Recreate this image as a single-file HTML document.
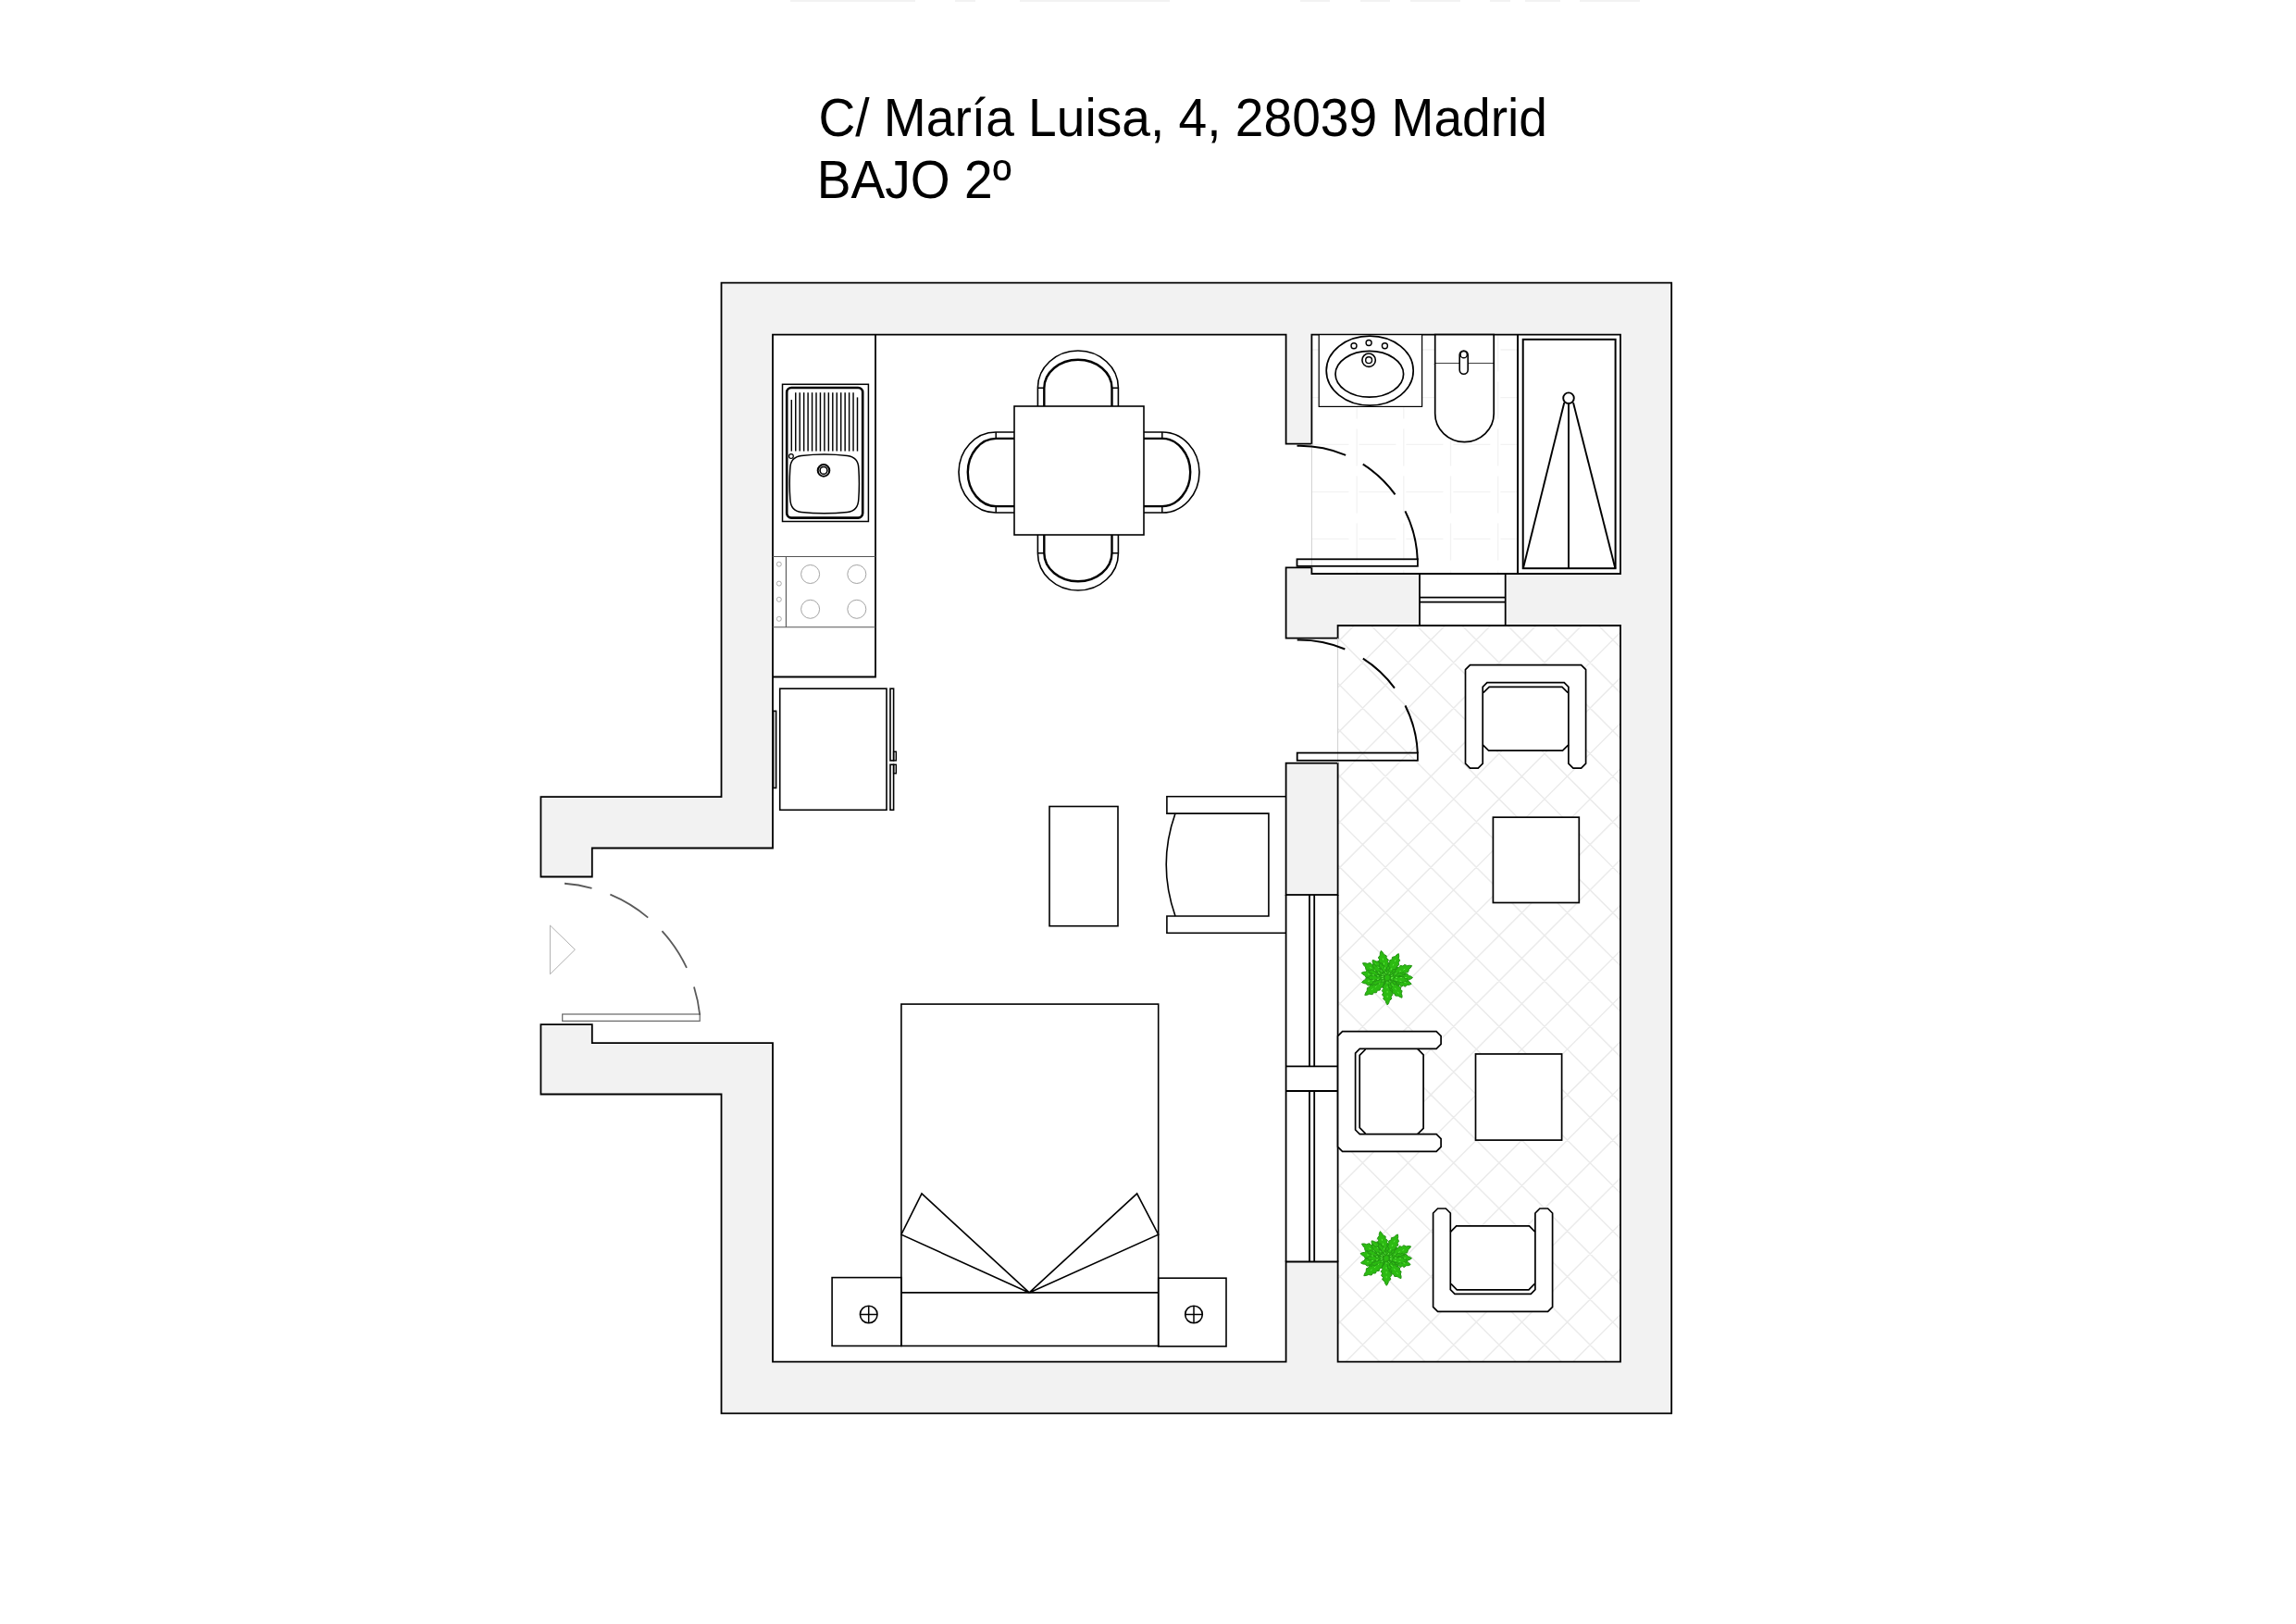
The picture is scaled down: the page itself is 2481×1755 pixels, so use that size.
<!DOCTYPE html>
<html><head><meta charset="utf-8"><style>
html,body{margin:0;padding:0;background:#fff;}
svg{display:block;}
</style></head><body>
<svg width="2481" height="1755" viewBox="0 0 2481 1755">
<rect width="2481" height="1755" fill="#fff"/>
<text transform="translate(884.4,147.4) scale(1,1.04)" font-family="&quot;Liberation Sans&quot;, sans-serif" font-size="55.14" fill="#000">C/ María Luisa, 4, 28039 Madrid</text>
<text transform="translate(882.68,213.7) scale(1,1.04)" font-family="&quot;Liberation Sans&quot;, sans-serif" font-size="55.14" fill="#000">BAJO 2º</text>
<rect x="854" y="0" width="135" height="2" fill="#f2f2f2"/>
<rect x="1032" y="0" width="22" height="2" fill="#f2f2f2"/>
<rect x="1102" y="0" width="162" height="2" fill="#f2f2f2"/>
<rect x="1405" y="0" width="32" height="2" fill="#f2f2f2"/>
<rect x="1470" y="0" width="32" height="2" fill="#f2f2f2"/>
<rect x="1524" y="0" width="54" height="2" fill="#f2f2f2"/>
<rect x="1610" y="0" width="22" height="2" fill="#f2f2f2"/>
<rect x="1648" y="0" width="38" height="2" fill="#f2f2f2"/>
<rect x="1707" y="0" width="65" height="2" fill="#f2f2f2"/>
<path d="M779.5,305.6 L1806.2,305.6 L1806.2,1527.4 L779.5,1527.4 L779.5,1182.5 L584.4,1182.5 L584.4,1107.1 L639.8,1107.1 L639.8,1127.1 L835,1127.1 L835,916.5 L639.8,916.5 L639.8,947.5 L584.4,947.5 L584.4,861.1 L779.5,861.1 Z" fill="#f2f2f2"/>
<rect x="835" y="361.6" width="554.6" height="1110" fill="#ffffff"/>
<rect x="584.4" y="947.5" width="251.6" height="159.6" fill="#ffffff"/>
<rect x="639.8" y="916.5" width="196.2" height="210.6" fill="#ffffff"/>
<rect x="1417.4" y="361.6" width="333.6" height="258.4" fill="#ffffff"/>
<rect x="1388.6" y="479.7" width="29.8" height="133.7" fill="#ffffff"/>
<rect x="1534" y="619" width="92.7" height="58" fill="#ffffff"/>
<rect x="1445.6" y="676" width="305.4" height="795.6" fill="#ffffff"/>
<rect x="1388.6" y="689.6" width="58" height="135.1" fill="#ffffff"/>
<rect x="1389.6" y="967" width="56" height="396.5" fill="#ffffff"/>
<clipPath id="tc"><rect x="1445.6" y="676" width="305.4" height="795.6"/></clipPath>
<path d="M1385.6,2546.1 L1811,2971.5 M1385.6,-1163.1 L1811,-1588.5 M1385.6,2496.95 L1811,2922.35 M1385.6,-1113.95 L1811,-1539.35 M1385.6,2447.8 L1811,2873.2 M1385.6,-1064.8 L1811,-1490.2 M1385.6,2398.65 L1811,2824.05 M1385.6,-1015.65 L1811,-1441.05 M1385.6,2349.5 L1811,2774.9 M1385.6,-966.5 L1811,-1391.9 M1385.6,2300.35 L1811,2725.75 M1385.6,-917.35 L1811,-1342.75 M1385.6,2251.2 L1811,2676.6 M1385.6,-868.2 L1811,-1293.6 M1385.6,2202.05 L1811,2627.45 M1385.6,-819.05 L1811,-1244.45 M1385.6,2152.9 L1811,2578.3 M1385.6,-769.9 L1811,-1195.3 M1385.6,2103.75 L1811,2529.15 M1385.6,-720.75 L1811,-1146.15 M1385.6,2054.6 L1811,2480 M1385.6,-671.6 L1811,-1097 M1385.6,2005.45 L1811,2430.85 M1385.6,-622.45 L1811,-1047.85 M1385.6,1956.3 L1811,2381.7 M1385.6,-573.3 L1811,-998.7 M1385.6,1907.15 L1811,2332.55 M1385.6,-524.15 L1811,-949.55 M1385.6,1858 L1811,2283.4 M1385.6,-475 L1811,-900.4 M1385.6,1808.85 L1811,2234.25 M1385.6,-425.85 L1811,-851.25 M1385.6,1759.7 L1811,2185.1 M1385.6,-376.7 L1811,-802.1 M1385.6,1710.55 L1811,2135.95 M1385.6,-327.55 L1811,-752.95 M1385.6,1661.4 L1811,2086.8 M1385.6,-278.4 L1811,-703.8 M1385.6,1612.25 L1811,2037.65 M1385.6,-229.25 L1811,-654.65 M1385.6,1563.1 L1811,1988.5 M1385.6,-180.1 L1811,-605.5 M1385.6,1513.95 L1811,1939.35 M1385.6,-130.95 L1811,-556.35 M1385.6,1464.8 L1811,1890.2 M1385.6,-81.8 L1811,-507.2 M1385.6,1415.65 L1811,1841.05 M1385.6,-32.65 L1811,-458.05 M1385.6,1366.5 L1811,1791.9 M1385.6,16.5 L1811,-408.9 M1385.6,1317.35 L1811,1742.75 M1385.6,65.65 L1811,-359.75 M1385.6,1268.2 L1811,1693.6 M1385.6,114.8 L1811,-310.6 M1385.6,1219.05 L1811,1644.45 M1385.6,163.95 L1811,-261.45 M1385.6,1169.9 L1811,1595.3 M1385.6,213.1 L1811,-212.3 M1385.6,1120.75 L1811,1546.15 M1385.6,262.25 L1811,-163.15 M1385.6,1071.6 L1811,1497 M1385.6,311.4 L1811,-114 M1385.6,1022.45 L1811,1447.85 M1385.6,360.55 L1811,-64.85 M1385.6,973.3 L1811,1398.7 M1385.6,409.7 L1811,-15.7 M1385.6,924.15 L1811,1349.55 M1385.6,458.85 L1811,33.45 M1385.6,875 L1811,1300.4 M1385.6,508 L1811,82.6 M1385.6,825.85 L1811,1251.25 M1385.6,557.15 L1811,131.75 M1385.6,776.7 L1811,1202.1 M1385.6,606.3 L1811,180.9 M1385.6,727.55 L1811,1152.95 M1385.6,655.45 L1811,230.05 M1385.6,678.4 L1811,1103.8 M1385.6,704.6 L1811,279.2 M1385.6,629.25 L1811,1054.65 M1385.6,753.75 L1811,328.35 M1385.6,580.1 L1811,1005.5 M1385.6,802.9 L1811,377.5 M1385.6,530.95 L1811,956.35 M1385.6,852.05 L1811,426.65 M1385.6,481.8 L1811,907.2 M1385.6,901.2 L1811,475.8 M1385.6,432.65 L1811,858.05 M1385.6,950.35 L1811,524.95 M1385.6,383.5 L1811,808.9 M1385.6,999.5 L1811,574.1 M1385.6,334.35 L1811,759.75 M1385.6,1048.65 L1811,623.25 M1385.6,285.2 L1811,710.6 M1385.6,1097.8 L1811,672.4 M1385.6,236.05 L1811,661.45 M1385.6,1146.95 L1811,721.55 M1385.6,186.9 L1811,612.3 M1385.6,1196.1 L1811,770.7 M1385.6,137.75 L1811,563.15 M1385.6,1245.25 L1811,819.85 M1385.6,88.6 L1811,514 M1385.6,1294.4 L1811,869 M1385.6,39.45 L1811,464.85 M1385.6,1343.55 L1811,918.15 M1385.6,-9.7 L1811,415.7 M1385.6,1392.7 L1811,967.3 M1385.6,-58.85 L1811,366.55 M1385.6,1441.85 L1811,1016.45 M1385.6,-108 L1811,317.4 M1385.6,1491 L1811,1065.6 M1385.6,-157.15 L1811,268.25 M1385.6,1540.15 L1811,1114.75 M1385.6,-206.3 L1811,219.1 M1385.6,1589.3 L1811,1163.9 M1385.6,-255.45 L1811,169.95 M1385.6,1638.45 L1811,1213.05 M1385.6,-304.6 L1811,120.8 M1385.6,1687.6 L1811,1262.2 M1385.6,-353.75 L1811,71.65 M1385.6,1736.75 L1811,1311.35 M1385.6,-402.9 L1811,22.5 M1385.6,1785.9 L1811,1360.5 M1385.6,-452.05 L1811,-26.65 M1385.6,1835.05 L1811,1409.65 M1385.6,-501.2 L1811,-75.8 M1385.6,1884.2 L1811,1458.8 M1385.6,-550.35 L1811,-124.95 M1385.6,1933.35 L1811,1507.95 M1385.6,-599.5 L1811,-174.1 M1385.6,1982.5 L1811,1557.1 M1385.6,-648.65 L1811,-223.25 M1385.6,2031.65 L1811,1606.25 M1385.6,-697.8 L1811,-272.4 M1385.6,2080.8 L1811,1655.4 M1385.6,-746.95 L1811,-321.55 M1385.6,2129.95 L1811,1704.55 M1385.6,-796.1 L1811,-370.7 M1385.6,2179.1 L1811,1753.7 M1385.6,-845.25 L1811,-419.85 M1385.6,2228.25 L1811,1802.85 M1385.6,-894.4 L1811,-469 M1385.6,2277.4 L1811,1852 M1385.6,-943.55 L1811,-518.15 M1385.6,2326.55 L1811,1901.15 M1385.6,-992.7 L1811,-567.3 M1385.6,2375.7 L1811,1950.3 M1385.6,-1041.85 L1811,-616.45 M1385.6,2424.85 L1811,1999.45 M1385.6,-1091 L1811,-665.6 M1385.6,2474 L1811,2048.6 M1385.6,-1140.15 L1811,-714.75 M1385.6,2523.15 L1811,2097.75 M1385.6,-1189.3 L1811,-763.9 M1385.6,2572.3 L1811,2146.9 M1385.6,-1238.45 L1811,-813.05 M1385.6,2621.45 L1811,2196.05 M1385.6,-1287.6 L1811,-862.2 M1385.6,2670.6 L1811,2245.2 M1385.6,-1336.75 L1811,-911.35 M1385.6,2719.75 L1811,2294.35" stroke="#ebebeb" stroke-width="1.5" fill="none" clip-path="url(#tc)"/>
<path d="M1466.2,361.6 L1466.2,620 M1516.8,361.6 L1516.8,620 M1567.5,361.6 L1567.5,620 M1618.7,361.6 L1618.7,620 M1417.4,378 L1640,378 M1417.4,429.7 L1640,429.7 M1417.4,480.4 L1640,480.4 M1417.4,531.6 L1640,531.6 M1417.4,582.3 L1640,582.3" stroke="#f2f2f2" stroke-width="1.3" fill="none" stroke-dasharray="40 11" stroke-dashoffset="0"/>
<path d="M779.5,861.1 L779.5,305.6 L1806.2,305.6 L1806.2,1527.4 L779.5,1527.4 L779.5,1182.5 L584.4,1182.5 L584.4,1107.1 L639.8,1107.1 L639.8,1127.1 L835,1127.1 L835,1471.6 L1389.6,1471.6 L1389.6,1363.5 L1445.6,1363.5 L1445.6,1471.6 L1751,1471.6 L1751,676 L1445.6,676 L1445.6,689.6 L1389.6,689.6 L1389.6,613.4 L1417.4,613.4 L1417.4,620 L1751,620 L1751,361.6 L1417.4,361.6 L1417.4,479.7 L1389.6,479.7 L1389.6,361.6 L835,361.6 L835,916.5 L639.8,916.5 L639.8,947.5 L584.4,947.5 L584.4,861.1 Z" fill="none" stroke="#000" stroke-width="1.8" stroke-linejoin="miter"/>
<line x1="1534" y1="620" x2="1534" y2="676" stroke="#000" stroke-width="1.8" />
<line x1="1626.7" y1="620" x2="1626.7" y2="676" stroke="#000" stroke-width="1.8" />
<line x1="1534" y1="645.6" x2="1626.7" y2="645.6" stroke="#000" stroke-width="1.8" />
<line x1="1534" y1="650.6" x2="1626.7" y2="650.6" stroke="#000" stroke-width="1.8" />
<rect x="1389.6" y="824.7" width="56" height="142.3" fill="none" stroke="#000" stroke-width="1.8" />
<line x1="1389.6" y1="967" x2="1389.6" y2="1363.5" stroke="#000" stroke-width="1.8" />
<line x1="1445.6" y1="967" x2="1445.6" y2="1363.5" stroke="#000" stroke-width="1.8" />
<line x1="1389.6" y1="1152.4" x2="1445.6" y2="1152.4" stroke="#000" stroke-width="1.8" />
<line x1="1389.6" y1="1179" x2="1445.6" y2="1179" stroke="#000" stroke-width="1.8" />
<line x1="1415" y1="967" x2="1415" y2="1152.4" stroke="#000" stroke-width="1.8" />
<line x1="1415" y1="1179" x2="1415" y2="1363.5" stroke="#000" stroke-width="1.8" />
<line x1="1420.2" y1="967" x2="1420.2" y2="1152.4" stroke="#000" stroke-width="1.8" />
<line x1="1420.2" y1="1179" x2="1420.2" y2="1363.5" stroke="#000" stroke-width="1.8" />
<line x1="1417.4" y1="479.7" x2="1417.4" y2="613.4" stroke="#cfcfcf" stroke-width="1" />
<line x1="1445.6" y1="689.6" x2="1445.6" y2="824.7" stroke="#cfcfcf" stroke-width="1" />
<path d="M946,361.6 L946,731.5 L835,731.5" fill="none" stroke="#000" stroke-width="1.8" />
<rect x="845.5" y="415.3" width="92.9" height="148.2" fill="none" stroke="#000" stroke-width="1.5" />
<rect x="850.2" y="419" width="82" height="140.6" rx="5" ry="5" fill="none" stroke="#000" stroke-width="2.6"/>
<line x1="855.3" y1="432" x2="855.3" y2="487.6" stroke="#000" stroke-width="1.45" />
<line x1="859.75" y1="424.2" x2="859.75" y2="487.6" stroke="#000" stroke-width="1.45" />
<line x1="864.2" y1="424.2" x2="864.2" y2="487.6" stroke="#000" stroke-width="1.45" />
<line x1="868.65" y1="424.2" x2="868.65" y2="487.6" stroke="#000" stroke-width="1.45" />
<line x1="873.1" y1="424.2" x2="873.1" y2="487.6" stroke="#000" stroke-width="1.45" />
<line x1="877.55" y1="424.2" x2="877.55" y2="487.6" stroke="#000" stroke-width="1.45" />
<line x1="882" y1="424.2" x2="882" y2="487.6" stroke="#000" stroke-width="1.45" />
<line x1="886.45" y1="424.2" x2="886.45" y2="487.6" stroke="#000" stroke-width="1.45" />
<line x1="890.9" y1="424.2" x2="890.9" y2="487.6" stroke="#000" stroke-width="1.45" />
<line x1="895.35" y1="424.2" x2="895.35" y2="487.6" stroke="#000" stroke-width="1.45" />
<line x1="899.8" y1="424.2" x2="899.8" y2="487.6" stroke="#000" stroke-width="1.45" />
<line x1="904.25" y1="424.2" x2="904.25" y2="487.6" stroke="#000" stroke-width="1.45" />
<line x1="908.7" y1="424.2" x2="908.7" y2="487.6" stroke="#000" stroke-width="1.45" />
<line x1="913.15" y1="424.2" x2="913.15" y2="487.6" stroke="#000" stroke-width="1.45" />
<line x1="917.6" y1="424.2" x2="917.6" y2="487.6" stroke="#000" stroke-width="1.45" />
<line x1="922.05" y1="424.2" x2="922.05" y2="487.6" stroke="#000" stroke-width="1.45" />
<line x1="926.5" y1="429.4" x2="926.5" y2="487.6" stroke="#000" stroke-width="1.45" />
<circle cx="854.9" cy="493.1" r="2.4" fill="none" stroke="#000" stroke-width="1.2"/>
<path d="M866,492.6 Q890.7,489.6 915.5,492.6 Q927.4,494 927.8,506 Q929,522.7 927.8,539 Q927.4,552.4 915.5,553.4 Q890.7,556.2 866,553.4 Q854.2,552.4 853.8,539 Q852.6,522.7 853.8,506 Q854.2,494 866,492.6 Z" fill="none" stroke="#000" stroke-width="1.5" />
<circle cx="890" cy="508.4" r="6.3" fill="none" stroke="#000" stroke-width="2.0"/>
<circle cx="890" cy="508.4" r="3.9" fill="none" stroke="#000" stroke-width="1.6"/>
<line x1="835" y1="601.5" x2="946" y2="601.5" stroke="#555" stroke-width="1.1" />
<line x1="835" y1="677.8" x2="946" y2="677.8" stroke="#555" stroke-width="1.1" />
<line x1="849.4" y1="601.5" x2="849.4" y2="677.8" stroke="#555" stroke-width="1.1" />
<circle cx="841.8" cy="609.7" r="2.5" fill="none" stroke="#999" stroke-width="0.8"/>
<circle cx="841.8" cy="630.6" r="2.5" fill="none" stroke="#999" stroke-width="0.8"/>
<circle cx="841.8" cy="647.8" r="2.5" fill="none" stroke="#999" stroke-width="0.8"/>
<circle cx="841.8" cy="668.8" r="2.5" fill="none" stroke="#999" stroke-width="0.8"/>
<circle cx="875.6" cy="620.5" r="10" fill="none" stroke="#999" stroke-width="0.9"/>
<circle cx="925.8" cy="620.5" r="10" fill="none" stroke="#999" stroke-width="0.9"/>
<circle cx="875.6" cy="658.3" r="10" fill="none" stroke="#999" stroke-width="0.9"/>
<circle cx="925.8" cy="658.3" r="10" fill="none" stroke="#999" stroke-width="0.9"/>
<rect x="842.7" y="744.2" width="115.3" height="131.1" fill="none" stroke="#000" stroke-width="1.6" />
<rect x="835.6" y="768.4" width="3" height="83.1" fill="none" stroke="#000" stroke-width="1.6" />
<rect x="962" y="744.2" width="3.6" height="77.7" fill="none" stroke="#000" stroke-width="1.6" />
<rect x="962" y="826.3" width="3.6" height="49" fill="none" stroke="#000" stroke-width="1.6" />
<rect x="965.6" y="812.3" width="2.7" height="9.6" fill="none" stroke="#000" stroke-width="1.4" />
<rect x="965.6" y="826.3" width="2.7" height="9.5" fill="none" stroke="#000" stroke-width="1.4" />
<g transform="translate(1164.9,439) rotate(0)"><path d="M-43.5,0 V-20 A43.5,40 0 0 1 43.5,-20 V0" fill="none" stroke="#000" stroke-width="1.6"/><path d="M-36.6,0 V-19.5 A36.6,30.7 0 0 1 36.6,-19.5 V0" fill="none" stroke="#000" stroke-width="2.4"/><path d="M-43.5,-19.8 H-36.6 M36.6,-19.8 H43.5" fill="none" stroke="#000" stroke-width="1.5"/></g>
<g transform="translate(1164.9,578) rotate(180)"><path d="M-43.5,0 V-20 A43.5,40 0 0 1 43.5,-20 V0" fill="none" stroke="#000" stroke-width="1.6"/><path d="M-36.6,0 V-19.5 A36.6,30.7 0 0 1 36.6,-19.5 V0" fill="none" stroke="#000" stroke-width="2.4"/><path d="M-43.5,-19.8 H-36.6 M36.6,-19.8 H43.5" fill="none" stroke="#000" stroke-width="1.5"/></g>
<g transform="translate(1096,510.5) rotate(-90)"><path d="M-43.5,0 V-20 A43.5,40 0 0 1 43.5,-20 V0" fill="none" stroke="#000" stroke-width="1.6"/><path d="M-36.6,0 V-19.5 A36.6,30.7 0 0 1 36.6,-19.5 V0" fill="none" stroke="#000" stroke-width="2.4"/><path d="M-43.5,-19.8 H-36.6 M36.6,-19.8 H43.5" fill="none" stroke="#000" stroke-width="1.5"/></g>
<g transform="translate(1236,510.5) rotate(90)"><path d="M-43.5,0 V-20 A43.5,40 0 0 1 43.5,-20 V0" fill="none" stroke="#000" stroke-width="1.6"/><path d="M-36.6,0 V-19.5 A36.6,30.7 0 0 1 36.6,-19.5 V0" fill="none" stroke="#000" stroke-width="2.4"/><path d="M-43.5,-19.8 H-36.6 M36.6,-19.8 H43.5" fill="none" stroke="#000" stroke-width="1.5"/></g>
<rect x="1096" y="439" width="140" height="139" fill="#fff" stroke="#000" stroke-width="1.6" />
<rect x="1134" y="871.5" width="74" height="129.2" fill="none" stroke="#000" stroke-width="1.6" />
<path d="M1389.6,860.7 H1260.9 V879.1 H1370.9 V990 H1260.9 V1008.3 H1389.6" fill="none" stroke="#000" stroke-width="1.6" stroke-linejoin="miter"/>
<path d="M1270,879.1 Q1250.4,934.5 1270,990" fill="none" stroke="#000" stroke-width="1.6" />
<rect x="973.9" y="1085.1" width="277.8" height="369.4" fill="none" stroke="#000" stroke-width="1.6" />
<line x1="973.9" y1="1396.9" x2="1251.7" y2="1396.9" stroke="#000" stroke-width="1.6" />
<rect x="899.1" y="1380.6" width="74.8" height="73.9" fill="none" stroke="#000" stroke-width="1.6" />
<rect x="1251.7" y="1381.2" width="73.3" height="73.8" fill="none" stroke="#000" stroke-width="1.6" />
<circle cx="938.7" cy="1420.5" r="9.3" fill="none" stroke="#000" stroke-width="1.6"/>
<line x1="929.4" y1="1420.5" x2="948" y2="1420.5" stroke="#000" stroke-width="1.5" />
<line x1="938.7" y1="1411.2" x2="938.7" y2="1429.8" stroke="#000" stroke-width="1.5" />
<circle cx="1290" cy="1420.5" r="9.3" fill="none" stroke="#000" stroke-width="1.6"/>
<line x1="1280.7" y1="1420.5" x2="1299.3" y2="1420.5" stroke="#000" stroke-width="1.5" />
<line x1="1290" y1="1411.2" x2="1290" y2="1429.8" stroke="#000" stroke-width="1.5" />
<path d="M973.9,1334.2 L996,1289.9 L1112.2,1396.9 L973.9,1334.2 Z" fill="none" stroke="#000" stroke-width="1.6" stroke-linejoin="miter"/>
<path d="M1251.7,1334.2 L1228.6,1289.9 L1112.2,1396.9 L1251.7,1334.2 Z" fill="none" stroke="#000" stroke-width="1.6" stroke-linejoin="miter"/>
<rect x="607.7" y="1096" width="148.5" height="7.4" fill="none" stroke="#666" stroke-width="1.2" />
<path d="M610.02,954.77 A159.3,159.3 0 0 1 756.23,1096.95" fill="none" stroke="#5a5a5a" stroke-width="1.8" stroke-dasharray="30 21 48 21 48 22 40"/>
<path d="M594.4,1000 L621.4,1026.2 L594.4,1052.8 Z" fill="none" stroke="#b0b0b0" stroke-width="1" />
<rect x="1401.5" y="604.3" width="130.4" height="7.5" fill="none" stroke="#000" stroke-width="1.8" />
<path d="M1401.51,481.83 A127.4,127.4 0 0 1 1531.72,604.75" fill="none" stroke="#000" stroke-width="2.0" stroke-dasharray="54 21 48 21 70"/>
<rect x="1401.7" y="813.6" width="130.2" height="8.2" fill="none" stroke="#000" stroke-width="1.8" />
<path d="M1401.68,691.52 A128.3,128.3 0 0 1 1531.87,813.98" fill="none" stroke="#000" stroke-width="2.0" stroke-dasharray="53 22 47 22 70"/>
<rect x="1425.2" y="361.6" width="111.4" height="77.8" fill="#fff" stroke="#000" stroke-width="1.2" />
<ellipse cx="1480.2" cy="400.6" rx="47" ry="37.5" fill="none" stroke="#000" stroke-width="1.7"/>
<ellipse cx="1479.8" cy="404.3" rx="36.8" ry="24.9" fill="none" stroke="#000" stroke-width="1.7"/>
<circle cx="1479.1" cy="389.2" r="7.2" fill="none" stroke="#000" stroke-width="1.6"/>
<circle cx="1479.1" cy="389.2" r="3.4" fill="none" stroke="#000" stroke-width="1.4"/>
<circle cx="1463" cy="373.7" r="3" fill="none" stroke="#000" stroke-width="1.4"/>
<circle cx="1479.1" cy="370.5" r="3" fill="none" stroke="#000" stroke-width="1.4"/>
<circle cx="1496.4" cy="373.7" r="3" fill="none" stroke="#000" stroke-width="1.4"/>
<rect x="1550.7" y="361.6" width="63.5" height="31.5" fill="#fff" stroke="#000" stroke-width="1.7" />
<path d="M1550.7,393.1 V447 A31.75,30.6 0 0 0 1614.2,447 V393.1" fill="#fff" stroke="#000" stroke-width="1.7" />
<rect x="1577.2" y="379" width="9" height="25.3" rx="4.5" ry="4.5" fill="#fff" stroke="#000" stroke-width="1.6"/>
<circle cx="1581.7" cy="383.2" r="3.6" fill="#fff" stroke="#000" stroke-width="1.4"/>
<line x1="1640" y1="361.6" x2="1640" y2="620" stroke="#000" stroke-width="2.0" />
<rect x="1645.7" y="366.8" width="99.9" height="247.4" fill="none" stroke="#000" stroke-width="2.0" />
<line x1="1690.3" y1="435.1" x2="1645.9" y2="614.2" stroke="#000" stroke-width="1.9" />
<line x1="1700" y1="435.1" x2="1745.4" y2="614.2" stroke="#000" stroke-width="1.9" />
<line x1="1695" y1="436" x2="1695" y2="614.2" stroke="#000" stroke-width="1.9" />
<circle cx="1695" cy="430.2" r="5.8" fill="#fff" stroke="#000" stroke-width="1.9"/>
<g transform="translate(1583.5,718.7)"><path d="M18.7,23.7 L23.4,19 L106.7,19 L111.4,23.7 L111.4,86.1 L105,92.5 L25.1,92.5 L18.7,86.1 Z" fill="#fff"/><path d="M0,5 L5,0 L125.1,0 L130.1,5 L130.1,106.5 L125.1,111.5 L116.4,111.5 L111.4,106.5 L111.4,23.7 L106.7,19 L23.4,19 L18.7,23.7 L18.7,106.5 L13.7,111.5 L5,111.5 L0,106.5 Z" fill="#fff" stroke="#000" stroke-width="1.7" stroke-linejoin="miter"/><path d="M19.3,30 L25.7,23.6 H104.4 L110.8,30" fill="none" stroke="#000" stroke-width="1.7"/><path d="M18.7,86.1 L25.1,92.5 H105 L111.4,86.1" fill="none" stroke="#000" stroke-width="1.7"/></g>
<g transform="translate(1445.6,1244.4) rotate(-90)"><path d="M18.7,23.7 L23.4,19 L106.3,19 L111,23.7 L111,86.1 L104.6,92.5 L25.1,92.5 L18.7,86.1 Z" fill="#fff"/><path d="M0,5 L5,0 L124.7,0 L129.7,5 L129.7,106.5 L124.7,111.5 L116,111.5 L111,106.5 L111,23.7 L106.3,19 L23.4,19 L18.7,23.7 L18.7,106.5 L13.7,111.5 L5,111.5 L0,106.5 Z" fill="#fff" stroke="#000" stroke-width="1.7" stroke-linejoin="miter"/><path d="M19.3,30 L25.7,23.6 H104 L110.4,30" fill="none" stroke="#000" stroke-width="1.7"/><path d="M18.7,86.1 L25.1,92.5 H104.6 L111,86.1" fill="none" stroke="#000" stroke-width="1.7"/></g>
<g transform="translate(1677.6,1417.4) rotate(180)"><path d="M18.7,23.7 L23.4,19 L105.6,19 L110.3,23.7 L110.3,86.1 L103.9,92.5 L25.1,92.5 L18.7,86.1 Z" fill="#fff"/><path d="M0,5 L5,0 L124,0 L129,5 L129,106.4 L124,111.4 L115.3,111.4 L110.3,106.4 L110.3,23.7 L105.6,19 L23.4,19 L18.7,23.7 L18.7,106.4 L13.7,111.4 L5,111.4 L0,106.4 Z" fill="#fff" stroke="#000" stroke-width="1.7" stroke-linejoin="miter"/><path d="M19.3,30 L25.7,23.6 H103.3 L109.7,30" fill="none" stroke="#000" stroke-width="1.7"/><path d="M18.7,86.1 L25.1,92.5 H103.9 L110.3,86.1" fill="none" stroke="#000" stroke-width="1.7"/></g>
<rect x="1613.4" y="883.2" width="92.9" height="92.3" fill="#fff" stroke="#000" stroke-width="1.7" />
<rect x="1594.5" y="1139" width="93.1" height="93.1" fill="#fff" stroke="#000" stroke-width="1.7" />
<circle cx="1499" cy="1056.5" r="10" fill="#2cbb12"/>
<path d="M1498.33,1053.58 L1501.43,1050.56 L1500.39,1048.51 L1501.97,1045.85 L1500.4,1043.91 L1501.55,1041.35 L1499.57,1039.51 L1500.33,1037.04 L1497.95,1035.29 L1498.27,1032.92 L1495.34,1031.29 L1494.26,1029.24 L1492.3,1027.4 L1492.3,1027.4 L1491.34,1029.92 L1491.27,1032.23 L1489.34,1034.97 L1490.67,1036.96 L1489.3,1039.58 L1491.05,1041.47 L1490.09,1043.99 L1492.24,1045.79 L1491.67,1048.22 L1494.25,1049.92 L1494.22,1052.23 L1498.33,1053.58 Z M1500.29,1053.79 L1504.55,1053.45 L1504.97,1051.28 L1507.81,1050.26 L1507.74,1047.86 L1510.19,1046.65 L1509.74,1044.07 L1511.82,1042.69 L1511,1039.93 L1512.68,1038.36 L1511.35,1035.36 L1511.74,1033.18 L1511.3,1030.6 L1511.3,1030.6 L1509.03,1031.89 L1507.57,1033.57 L1504.41,1034.43 L1504.25,1036.73 L1501.6,1037.83 L1501.85,1040.32 L1499.56,1041.61 L1500.18,1044.26 L1498.27,1045.73 L1499.28,1048.57 L1497.86,1050.27 L1500.29,1053.79 Z M1501.7,1055.19 L1505.31,1057.56 L1507.06,1056.09 L1509.98,1057.05 L1511.49,1055.09 L1514.22,1055.65 L1515.56,1053.33 L1518.11,1053.52 L1519.26,1050.83 L1521.62,1050.62 L1522.53,1047.41 L1524.26,1045.92 L1525.6,1043.6 L1525.6,1043.6 L1522.95,1043.22 L1520.7,1043.65 L1517.63,1042.38 L1516,1044.1 L1513.17,1043.34 L1511.74,1045.46 L1509.09,1045.07 L1507.84,1047.56 L1505.37,1047.54 L1504.31,1050.42 L1502.08,1050.89 L1501.7,1055.19 Z M1502,1056.5 L1504.04,1060.2 L1506.08,1059.65 L1508.12,1061.78 L1510.17,1060.69 L1512.21,1062.38 L1514.25,1060.87 L1516.29,1062.16 L1518.33,1060.24 L1520.38,1061.08 L1522.42,1058.59 L1524.46,1058 L1526.5,1056.5 L1526.5,1056.5 L1524.46,1055 L1522.42,1054.41 L1520.38,1051.92 L1518.33,1052.76 L1516.29,1050.84 L1514.25,1052.13 L1512.21,1050.62 L1510.17,1052.31 L1508.12,1051.22 L1506.08,1053.35 L1504.04,1052.8 L1502,1056.5 Z M1501.9,1057.27 L1502.89,1061.36 L1504.96,1061.33 L1506.35,1063.91 L1508.56,1063.36 L1510.06,1065.51 L1512.38,1064.56 L1513.99,1066.32 L1516.41,1064.97 L1518.13,1066.29 L1520.7,1064.4 L1522.78,1064.34 L1525.1,1063.4 L1525.1,1063.4 L1523.55,1061.44 L1521.77,1060.36 L1520.47,1057.44 L1518.32,1057.74 L1516.88,1055.37 L1514.62,1056.11 L1513.07,1054.14 L1510.7,1055.26 L1509.05,1053.69 L1506.57,1055.24 L1504.78,1054.2 L1501.9,1057.27 Z M1500.78,1058.91 L1498.99,1062.72 L1500.61,1064 L1500.08,1066.87 L1502.15,1067.83 L1501.97,1070.44 L1504.37,1071.15 L1504.52,1073.52 L1507.25,1073.99 L1507.76,1076.1 L1510.95,1076.23 L1512.61,1077.48 L1515,1078.2 L1515,1078.2 L1515.02,1075.7 L1514.31,1073.74 L1515.13,1070.66 L1513.27,1069.55 L1513.63,1066.81 L1511.41,1065.96 L1511.44,1063.46 L1508.89,1062.86 L1508.59,1060.6 L1505.69,1060.26 L1504.94,1058.32 L1500.78,1058.91 Z M1499.03,1059.5 L1495.35,1061.75 L1495.93,1063.95 L1493.81,1066.18 L1494.93,1068.38 L1493.26,1070.6 L1494.8,1072.79 L1493.53,1075.02 L1495.47,1077.2 L1494.65,1079.42 L1497.16,1081.6 L1497.78,1083.81 L1499.3,1086 L1499.3,1086 L1500.78,1083.78 L1501.35,1081.56 L1503.81,1079.33 L1502.95,1077.13 L1504.85,1074.9 L1503.54,1072.71 L1505.02,1070.48 L1503.31,1068.29 L1504.38,1066.07 L1502.23,1063.88 L1502.75,1061.67 L1499.03,1059.5 Z M1496.64,1058.35 L1492.54,1056.85 L1491.06,1058.71 L1487.92,1058.44 L1486.78,1060.73 L1483.92,1060.82 L1483.03,1063.43 L1480.42,1063.83 L1479.78,1066.77 L1477.44,1067.53 L1477.15,1070.91 L1475.7,1072.8 L1474.8,1075.4 L1474.8,1075.4 L1477.54,1075.16 L1479.73,1074.21 L1483.08,1074.75 L1484.38,1072.66 L1487.38,1072.75 L1488.41,1070.32 L1491.16,1070.09 L1491.93,1067.33 L1494.43,1066.77 L1494.94,1063.67 L1497.09,1062.69 L1496.64,1058.35 Z M1496.05,1057.05 L1493.33,1053.79 L1491.38,1054.71 L1488.95,1052.99 L1487.1,1054.45 L1484.75,1053.16 L1482.98,1055.03 L1480.7,1054.14 L1479,1056.41 L1476.8,1055.96 L1475.21,1058.78 L1473.27,1059.75 L1471.5,1061.6 L1471.5,1061.6 L1473.82,1062.7 L1475.97,1062.9 L1478.47,1064.96 L1480.36,1063.76 L1482.76,1065.27 L1484.57,1063.62 L1486.89,1064.72 L1488.63,1062.68 L1490.88,1063.38 L1492.53,1060.9 L1494.68,1061.07 L1496.05,1057.05 Z M1496.05,1055.96 L1494.64,1051.94 L1492.46,1052.1 L1490.76,1049.62 L1488.49,1050.32 L1486.71,1048.28 L1484.36,1049.38 L1482.51,1047.73 L1480.09,1049.24 L1478.16,1048.04 L1475.63,1050.1 L1473.45,1050.3 L1471.1,1051.4 L1471.1,1051.4 L1472.91,1053.26 L1474.88,1054.22 L1476.51,1057.04 L1478.74,1056.6 L1480.48,1058.87 L1482.79,1057.98 L1484.6,1059.84 L1486.98,1058.56 L1488.86,1060.02 L1491.32,1058.3 L1493.3,1059.22 L1496.05,1055.96 Z M1496.42,1054.97 L1496.31,1050.61 L1494.04,1049.9 L1493.13,1046.88 L1490.58,1046.65 L1489.45,1044.01 L1486.69,1044.13 L1485.35,1041.84 L1482.38,1042.31 L1480.81,1040.4 L1477.55,1041.36 L1475.26,1040.69 L1472.5,1040.8 L1472.5,1040.8 L1473.73,1043.27 L1475.42,1044.96 L1476.15,1048.28 L1478.57,1048.74 L1479.58,1051.57 L1482.23,1051.65 L1483.46,1054.12 L1486.31,1053.85 L1487.75,1055.97 L1490.83,1055.32 L1492.54,1056.97 L1496.42,1054.97 Z M1497.07,1054.2 L1498.74,1050.44 L1497.15,1049.41 L1497.62,1046.65 L1495.62,1045.97 L1495.75,1043.5 L1493.43,1043.09 L1493.25,1040.88 L1490.62,1040.73 L1490.1,1038.8 L1487.03,1039.02 L1485.41,1038.02 L1483.1,1037.6 L1483.1,1037.6 L1483.12,1039.95 L1483.83,1041.71 L1483.09,1044.7 L1484.9,1045.54 L1484.59,1048.16 L1486.74,1048.72 L1486.75,1051.07 L1489.21,1051.36 L1489.53,1053.46 L1492.33,1053.46 L1493.07,1055.2 L1497.07,1054.2 Z" fill="#2cbb12" stroke="#239412" stroke-width="1" stroke-linejoin="round"/>
<path d="M1497.99,1052.13 L1493.64,1033.22 M1500.85,1052.62 L1508.84,1035.78 M1502.99,1054.57 L1520.28,1046.18 M1503.12,1056.5 L1521,1056.5 M1502.91,1057.54 L1519.88,1062.02 M1501.4,1059.76 L1511.8,1073.86 M1499.05,1060.92 L1499.24,1080.1 M1495.37,1059.34 L1479.64,1071.62 M1494.88,1057.27 L1477,1060.58 M1494.82,1055.73 L1476.68,1052.42 M1495.03,1054.14 L1477.8,1043.94 M1496.62,1053.66 L1486.28,1041.38" stroke="#5fe640" stroke-width="1" stroke-dasharray="2 3" fill="none"/>
<circle cx="1498" cy="1359.8" r="10" fill="#2cbb12"/>
<path d="M1497.33,1356.88 L1500.43,1353.86 L1499.39,1351.81 L1500.97,1349.15 L1499.4,1347.21 L1500.55,1344.65 L1498.57,1342.81 L1499.33,1340.34 L1496.95,1338.59 L1497.27,1336.22 L1494.34,1334.59 L1493.26,1332.54 L1491.3,1330.7 L1491.3,1330.7 L1490.34,1333.22 L1490.27,1335.53 L1488.34,1338.27 L1489.67,1340.26 L1488.3,1342.88 L1490.05,1344.77 L1489.09,1347.29 L1491.24,1349.09 L1490.67,1351.52 L1493.25,1353.22 L1493.22,1355.53 L1497.33,1356.88 Z M1499.29,1357.09 L1503.55,1356.75 L1503.97,1354.58 L1506.81,1353.56 L1506.74,1351.16 L1509.19,1349.95 L1508.74,1347.37 L1510.82,1345.99 L1510,1343.23 L1511.68,1341.66 L1510.35,1338.66 L1510.74,1336.48 L1510.3,1333.9 L1510.3,1333.9 L1508.03,1335.19 L1506.57,1336.87 L1503.41,1337.73 L1503.25,1340.03 L1500.6,1341.13 L1500.85,1343.62 L1498.56,1344.91 L1499.18,1347.56 L1497.27,1349.03 L1498.28,1351.87 L1496.86,1353.57 L1499.29,1357.09 Z M1500.7,1358.49 L1504.31,1360.86 L1506.06,1359.39 L1508.98,1360.35 L1510.49,1358.39 L1513.22,1358.95 L1514.56,1356.63 L1517.11,1356.82 L1518.26,1354.13 L1520.62,1353.92 L1521.53,1350.71 L1523.26,1349.22 L1524.6,1346.9 L1524.6,1346.9 L1521.95,1346.52 L1519.7,1346.95 L1516.63,1345.68 L1515,1347.4 L1512.17,1346.64 L1510.74,1348.76 L1508.09,1348.37 L1506.84,1350.86 L1504.37,1350.84 L1503.31,1353.72 L1501.08,1354.19 L1500.7,1358.49 Z M1501,1359.8 L1503.04,1363.5 L1505.08,1362.95 L1507.12,1365.08 L1509.17,1363.99 L1511.21,1365.68 L1513.25,1364.17 L1515.29,1365.46 L1517.33,1363.54 L1519.38,1364.38 L1521.42,1361.89 L1523.46,1361.3 L1525.5,1359.8 L1525.5,1359.8 L1523.46,1358.3 L1521.42,1357.71 L1519.38,1355.22 L1517.33,1356.06 L1515.29,1354.14 L1513.25,1355.43 L1511.21,1353.92 L1509.17,1355.61 L1507.12,1354.52 L1505.08,1356.65 L1503.04,1356.1 L1501,1359.8 Z M1500.9,1360.57 L1501.89,1364.66 L1503.96,1364.63 L1505.35,1367.21 L1507.56,1366.66 L1509.06,1368.81 L1511.38,1367.86 L1512.99,1369.62 L1515.41,1368.27 L1517.13,1369.59 L1519.7,1367.7 L1521.78,1367.64 L1524.1,1366.7 L1524.1,1366.7 L1522.55,1364.74 L1520.77,1363.66 L1519.47,1360.74 L1517.32,1361.04 L1515.88,1358.67 L1513.62,1359.41 L1512.07,1357.44 L1509.7,1358.56 L1508.05,1356.99 L1505.57,1358.54 L1503.78,1357.5 L1500.9,1360.57 Z M1499.78,1362.21 L1497.99,1366.02 L1499.61,1367.3 L1499.08,1370.17 L1501.15,1371.13 L1500.97,1373.74 L1503.37,1374.45 L1503.52,1376.82 L1506.25,1377.29 L1506.76,1379.4 L1509.95,1379.53 L1511.61,1380.78 L1514,1381.5 L1514,1381.5 L1514.02,1379 L1513.31,1377.04 L1514.13,1373.96 L1512.27,1372.85 L1512.63,1370.11 L1510.41,1369.26 L1510.44,1366.76 L1507.89,1366.16 L1507.59,1363.9 L1504.69,1363.56 L1503.94,1361.62 L1499.78,1362.21 Z M1498.03,1362.8 L1494.35,1365.05 L1494.93,1367.25 L1492.81,1369.48 L1493.93,1371.68 L1492.26,1373.9 L1493.8,1376.09 L1492.53,1378.32 L1494.47,1380.5 L1493.65,1382.72 L1496.16,1384.9 L1496.78,1387.11 L1498.3,1389.3 L1498.3,1389.3 L1499.78,1387.08 L1500.35,1384.86 L1502.81,1382.63 L1501.95,1380.43 L1503.85,1378.2 L1502.54,1376.01 L1504.02,1373.78 L1502.31,1371.59 L1503.38,1369.37 L1501.23,1367.18 L1501.75,1364.97 L1498.03,1362.8 Z M1495.64,1361.65 L1491.54,1360.15 L1490.06,1362.01 L1486.92,1361.74 L1485.78,1364.03 L1482.92,1364.12 L1482.03,1366.73 L1479.42,1367.13 L1478.78,1370.07 L1476.44,1370.83 L1476.15,1374.21 L1474.7,1376.1 L1473.8,1378.7 L1473.8,1378.7 L1476.54,1378.46 L1478.73,1377.51 L1482.08,1378.05 L1483.38,1375.96 L1486.38,1376.05 L1487.41,1373.62 L1490.16,1373.39 L1490.93,1370.63 L1493.43,1370.07 L1493.94,1366.97 L1496.09,1365.99 L1495.64,1361.65 Z M1495.05,1360.35 L1492.33,1357.09 L1490.38,1358.01 L1487.95,1356.29 L1486.1,1357.75 L1483.75,1356.46 L1481.98,1358.33 L1479.7,1357.44 L1478,1359.71 L1475.8,1359.26 L1474.21,1362.08 L1472.27,1363.05 L1470.5,1364.9 L1470.5,1364.9 L1472.82,1366 L1474.97,1366.2 L1477.47,1368.26 L1479.36,1367.06 L1481.76,1368.57 L1483.57,1366.92 L1485.89,1368.02 L1487.63,1365.98 L1489.88,1366.68 L1491.53,1364.2 L1493.68,1364.37 L1495.05,1360.35 Z M1495.05,1359.26 L1493.64,1355.24 L1491.46,1355.4 L1489.76,1352.92 L1487.49,1353.62 L1485.71,1351.58 L1483.36,1352.68 L1481.51,1351.03 L1479.09,1352.54 L1477.16,1351.34 L1474.63,1353.4 L1472.45,1353.6 L1470.1,1354.7 L1470.1,1354.7 L1471.91,1356.56 L1473.88,1357.52 L1475.51,1360.34 L1477.74,1359.9 L1479.48,1362.17 L1481.79,1361.28 L1483.6,1363.14 L1485.98,1361.86 L1487.86,1363.32 L1490.32,1361.6 L1492.3,1362.52 L1495.05,1359.26 Z M1495.42,1358.27 L1495.31,1353.91 L1493.04,1353.2 L1492.13,1350.18 L1489.58,1349.95 L1488.45,1347.31 L1485.69,1347.43 L1484.35,1345.14 L1481.38,1345.61 L1479.81,1343.7 L1476.55,1344.66 L1474.26,1343.99 L1471.5,1344.1 L1471.5,1344.1 L1472.73,1346.57 L1474.42,1348.26 L1475.15,1351.58 L1477.57,1352.04 L1478.58,1354.87 L1481.23,1354.95 L1482.46,1357.42 L1485.31,1357.15 L1486.75,1359.27 L1489.83,1358.62 L1491.54,1360.27 L1495.42,1358.27 Z M1496.07,1357.5 L1497.74,1353.74 L1496.15,1352.71 L1496.62,1349.95 L1494.62,1349.27 L1494.75,1346.8 L1492.43,1346.39 L1492.25,1344.18 L1489.62,1344.03 L1489.1,1342.1 L1486.03,1342.32 L1484.41,1341.32 L1482.1,1340.9 L1482.1,1340.9 L1482.12,1343.25 L1482.83,1345.01 L1482.09,1348 L1483.9,1348.84 L1483.59,1351.46 L1485.74,1352.02 L1485.75,1354.37 L1488.21,1354.66 L1488.53,1356.76 L1491.33,1356.76 L1492.07,1358.5 L1496.07,1357.5 Z" fill="#2cbb12" stroke="#239412" stroke-width="1" stroke-linejoin="round"/>
<path d="M1496.99,1355.43 L1492.64,1336.52 M1499.85,1355.91 L1507.84,1339.08 M1501.99,1357.87 L1519.28,1349.48 M1502.12,1359.8 L1520,1359.8 M1501.91,1360.84 L1518.88,1365.32 M1500.4,1363.06 L1510.8,1377.16 M1498.05,1364.22 L1498.24,1383.4 M1494.37,1362.63 L1478.64,1374.92 M1493.88,1360.57 L1476,1363.88 M1493.82,1359.03 L1475.68,1355.72 M1494.03,1357.44 L1476.8,1347.24 M1495.62,1356.96 L1485.28,1344.68" stroke="#5fe640" stroke-width="1" stroke-dasharray="2 3" fill="none"/>
</svg>
</body></html>
